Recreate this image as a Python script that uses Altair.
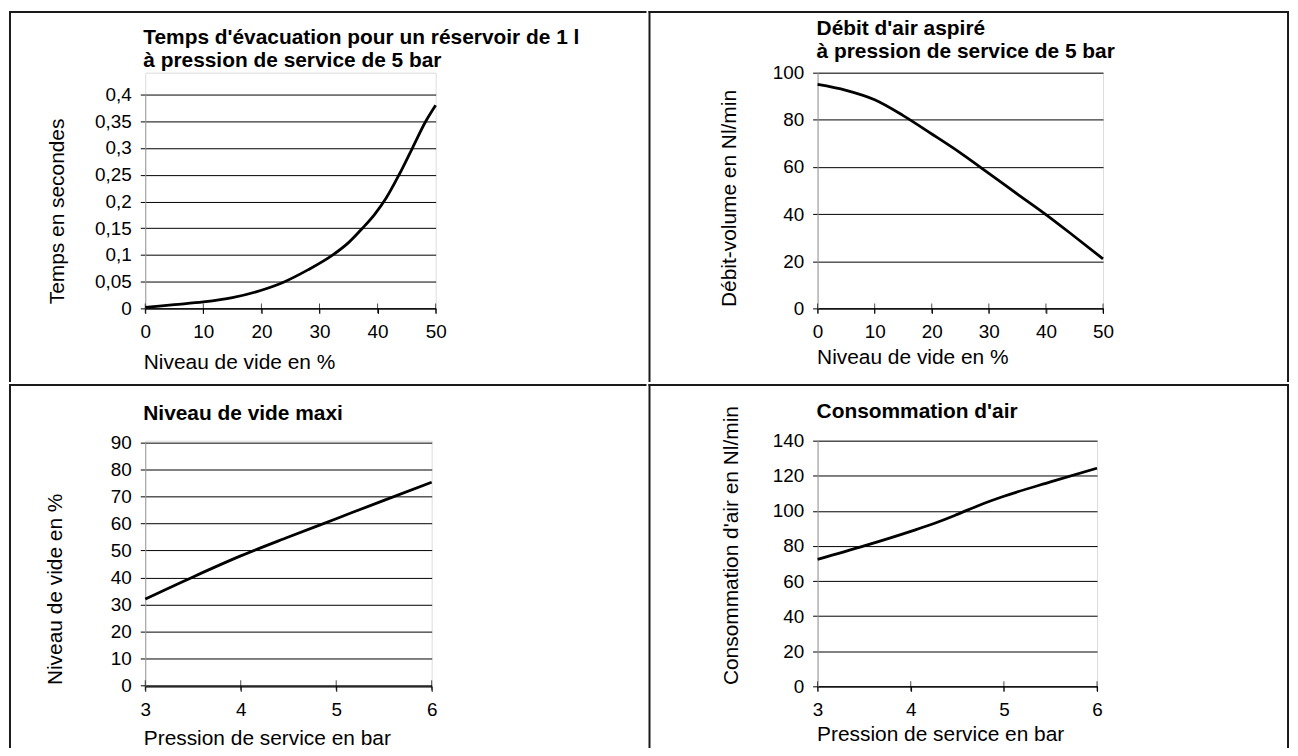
import altair as alt
import pandas as pd

FONT = "Liberation Sans"

# ---- data ----
# Panel 1: Temps d'évacuation (s) vs niveau de vide (%)
p1_x = [0, 5, 10, 15, 20, 24, 28, 32.3, 35, 37.4, 39.5, 41.4, 43.7, 46, 48.3, 50]
p1_y = [0.002, 0.007, 0.012, 0.02, 0.034, 0.05, 0.072, 0.1, 0.123, 0.15, 0.176, 0.205, 0.25, 0.3, 0.35, 0.38]
p1_xticks = [0, 10, 20, 30, 40, 50]
p1_yticks = [0, 0.05, 0.1, 0.15, 0.2, 0.25, 0.3, 0.35, 0.4]

# Panel 2: Débit-volume (Nl/min) vs niveau de vide (%)
p2_x = [0, 5, 10, 15, 20, 25, 30, 35, 40, 45, 50]
p2_y = [95, 92.5, 88.5, 81.8, 74, 66, 57.3, 48.5, 39.8, 30.5, 21]
p2_xticks = [0, 10, 20, 30, 40, 50]
p2_yticks = [0, 20, 40, 60, 80, 100]

# Panel 3: Niveau de vide maxi (%) vs pression de service (bar)
p3_x = [3, 3.5, 4, 4.5, 5, 5.5, 6]
p3_y = [32, 40.2, 48, 55, 61.8, 68.6, 75.3]
p3_xticks = [3, 4, 5, 6]
p3_yticks = [0, 10, 20, 30, 40, 50, 60, 70, 80, 90]

# Panel 4: Consommation d'air (Nl/min) vs pression de service (bar)
p4_x = [3, 3.5, 4, 4.25, 4.5, 4.75, 5, 5.5, 6]
p4_y = [72.3, 80, 88.3, 92.8, 98, 103.5, 108.3, 116.5, 124.3]
p4_xticks = [3, 4, 5, 6]
p4_yticks = [0, 20, 40, 60, 80, 100, 120, 140]

titles = [
    ["Temps d'évacuation pour un réservoir de 1 l", "à pression de service de 5 bar"],
    ["Débit d'air aspiré", "à pression de service de 5 bar"],
    ["Niveau de vide maxi"],
    ["Consommation d'air"],
]
xtitles = ["Niveau de vide en %", "Niveau de vide en %",
           "Pression de service en bar", "Pression de service en bar"]
ytitles = ["Temps en secondes", "Débit-volume en Nl/min",
           "Niveau de vide en %", "Consommation d'air en Nl/min"]


def one():
    return alt.Data(values=[{"k": 1}])


def panel(xv, yv, xdom, ydom, xticks, yticks, w, h, yrange, title_lines, title_x, title_ys,
          xtitle, ytitle, ytx, yty, xtx, xty, cell, right_edge, ylabel_expr=None):
    x0, x1, y0, y1 = cell
    df = pd.DataFrame({"x": xv, "y": yv})
    tdf = pd.DataFrame({"x": xticks})
    yax = dict(values=yticks, title=ytitle, grid=True, gridColor="black", gridWidth=1,
               gridOpacity=1, domainColor="#9a9a9a", domainWidth=1, tickColor="black",
               tickSize=5, labelPadding=9, labelFontSize=19, labelFont=FONT,
               labelColor="black", labelFlush=False, labelOverlap=False, labelBound=False,
               titleFont=FONT, titleFontSize=21, titleFontWeight="normal",
               titleColor="black", titleAngle=270, titleAlign="center",
               titleBaseline="middle", titleX=ytx, titleY=yty)
    if ylabel_expr:
        yax["labelExpr"] = ylabel_expr
    xax = dict(values=xticks, format="d", title=xtitle, grid=False, domainColor="black",
               domainWidth=1.2, tickColor="black", tickSize=5, labelPadding=9,
               labelFontSize=19, labelFont=FONT, labelColor="black", labelFlush=False,
               labelOverlap=False, titleFont=FONT, titleFontSize=21,
               titleFontWeight="normal", titleColor="black", titleAlign="left",
               titleBaseline="alphabetic", titleX=xtx, titleY=xty)
    xscale = alt.Scale(domain=xdom, nice=False, zero=False)
    yscale = alt.Scale(domain=ydom, nice=False, range=yrange)

    bg = alt.Chart(one()).mark_rect(fill="white", opacity=0).encode(
        x=alt.value(x0), x2=alt.value(x1), y=alt.value(y0), y2=alt.value(y1))
    layers = [bg]
    # cell borders: left, top, (right)
    layers.append(alt.Chart(one()).mark_rect(fill="#1a1a1a").encode(
        x=alt.value(x0), x2=alt.value(x0 + 2), y=alt.value(y0), y2=alt.value(y1)))
    layers.append(alt.Chart(one()).mark_rect(fill="#1a1a1a").encode(
        x=alt.value(x0), x2=alt.value(x1), y=alt.value(y0), y2=alt.value(y0 + 2)))
    if right_edge:
        layers.append(alt.Chart(one()).mark_rect(fill="#1a1a1a").encode(
            x=alt.value(x1 - 2), x2=alt.value(x1), y=alt.value(y0), y2=alt.value(y1)))

    line = alt.Chart(df).mark_line(color="black", strokeWidth=2.8,
                                   interpolate="monotone").encode(
        x=alt.X("x:Q", scale=xscale, axis=alt.Axis(**xax)),
        y=alt.Y("y:Q", scale=yscale, axis=alt.Axis(**yax)),
    )
    layers.append(line)
    # small tick crossings above the x axis
    ticks = alt.Chart(tdf).mark_tick(color="black", thickness=1, size=10,
                                     orient="vertical").encode(
        x=alt.X("x:Q", scale=xscale, axis=alt.Axis(**xax)),
        y=alt.value(yrange[0]),
    )
    layers.append(ticks)
    for t, ty in zip(title_lines, title_ys):
        layers.append(alt.Chart(one()).mark_text(
            align="left", baseline="alphabetic", font=FONT, fontSize=21,
            fontWeight="bold", color="black").encode(
            x=alt.value(title_x), y=alt.value(ty), text=alt.value(t)))
    return alt.layer(*layers).properties(width=w, height=h)


comma = "replace(format(datum.value, '.2~f'), '.', ',')"

# Row 1: plot origins at page y=70 (panel 1 range starts lower, at y=92)
c1 = panel(p1_x, p1_y, [0, 50], [0, 0.4], p1_xticks, p1_yticks, 292, 237, [237, 22],
           titles[0], -2, [-29, -6], xtitles[0], ytitles[0], -88, 139, -2, 60,
           (-137, 504, -62, 311), False, comma)
c2 = panel(p2_x, p2_y, [0, 50], [0, 100], p2_xticks, p2_yticks, 287, 237, [237, 0],
           titles[1], -1, [-38, -15], xtitles[1], ytitles[1], -89, 126, -1, 55,
           (-170, 474, -62, 311), True)
# Row 2: plot origins at page y=438
c3 = panel(p3_x, p3_y, [3, 6], [0, 90], p3_xticks, p3_yticks, 288, 247, [246, 2],
           titles[2], -2, [-21], xtitles[2], ytitles[2], -90, 149, -2, 58,
           (-137, 504, -57, 309), False)
c4 = panel(p4_x, p4_y, [3, 6], [0, 140], p4_xticks, p4_yticks, 281, 247, [247, 0],
           titles[3], -1, [-23], xtitles[3], ytitles[3], -87, 105, -1, 54,
           (-170, 474, -57, 309), True)

row1 = alt.hconcat(c1, c2, spacing=0)
row2 = alt.hconcat(c3, c4, spacing=0)
chart = alt.vconcat(row1, row2, spacing=0).properties(padding=0).configure_view(
    strokeWidth=0).configure(background="white")

chart.save("out.html", embed_options={"renderer": "svg", "actions": False})
